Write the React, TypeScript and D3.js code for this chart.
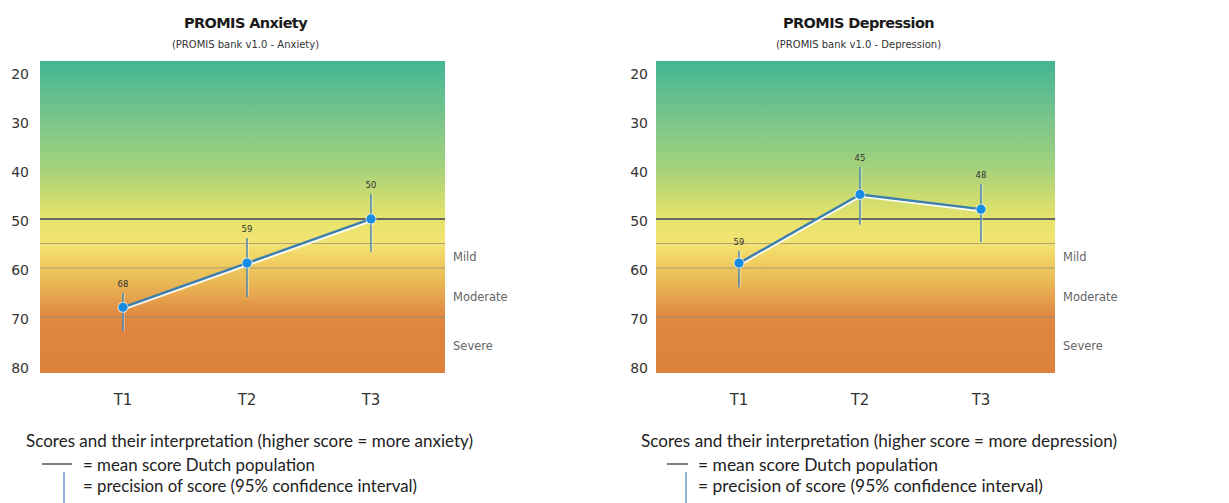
import React from "react";
import * as d3 from "d3";

const timepoints = ["T1", "T2", "T3"];
const yTicks = [20, 30, 40, 50, 60, 70, 80];
const anxietyMeans = [68, 59, 50];
const anxietyLower = [65.1, 53.9, 44.9];
const anxietyUpper = [72.9, 65.9, 56.7];
const depressionMeans = [59, 45, 48];
const depressionLower = [56.5, 39.4, 42.9];
const depressionUpper = [63.9, 51.2, 54.7];
const populationMean = 50;
const thresholds = [55, 60, 70];
const severityLabels = ["Mild", "Moderate", "Severe"];
const severityLabelValues = [57.8, 65.9, 75.8];
const gradientValues = [17.8, 30, 40, 46, 50, 55, 58, 62, 66, 69.5, 72, 81.4];
const gradientColors = ["#42b595", "#7cc68a", "#a6d27b", "#cfdc6e", "#e6e36c", "#f3e473", "#f1d264", "#eabd58", "#e6a34d", "#e08a42", "#df853f", "#dd823d"];

const Y_TOP = 61;
const Y_BOTTOM = 373;
const y = d3.scaleLinear().domain([17.8, 81.4]).range([Y_TOP, Y_BOTTOM]);

type PanelProps = {
  id: string;
  title: string;
  subtitle: string;
  means: number[];
  lower: number[];
  upper: number[];
  x0: number;
  x1: number;
  tickRight: number;
  legendX: number;
  legendText: string;
  legendWidth: number;
  lineX0: number;
  lineX1: number;
  textX: number;
  meanTextWidth: number;
  ciTextWidth: number;
  barX: number;
};

function Panel(p: PanelProps) {
  const x = d3.scalePoint<string>().domain(timepoints).range([p.x0 + 83, p.x1 - 74]);
  const pts = timepoints.map((t, i) => [x(t)!, y(p.means[i])] as [number, number]);
  const line = d3.line<[number, number]>()(pts) || "";
  const shadow = d3.line<[number, number]>()(pts.map(([a, b]) => [a + 0.5, b + 2] as [number, number])) || "";
  const cx = (p.x0 + p.x1) / 2;
  const stops = gradientValues.map((v, i) => ({
    off: (y(v) - Y_TOP) / (Y_BOTTOM - Y_TOP),
    col: gradientColors[i],
  }));
  return (
    <g>
      <defs>
        <linearGradient id={`grad-${p.id}`} x1="0" y1="0" x2="0" y2="1">
          {stops.map((s, i) => (
            <stop key={i} offset={s.off} stopColor={s.col} />
          ))}
        </linearGradient>
      </defs>
      <text x={cx + 3} y={28} textAnchor="middle" fontFamily="DejaVu Sans" fontWeight="bold" fontSize={14.5} fill="#1a1a1a" letterSpacing={-0.6}>
        {p.title}
      </text>
      <text x={cx + 3} y={48} textAnchor="middle" fontFamily="DejaVu Sans" fontSize={10} fill="#333">
        {p.subtitle}
      </text>
      <rect x={p.x0} y={Y_TOP} width={p.x1 - p.x0} height={Y_BOTTOM - Y_TOP} fill={`url(#grad-${p.id})`} />
      {thresholds.map((t) => (
        <line key={t} x1={p.x0} x2={p.x1} y1={y(t)} y2={y(t)} stroke="#8c8a78" strokeOpacity={0.7} strokeWidth={1.2} />
      ))}
      <line x1={p.x0} x2={p.x1} y1={y(populationMean)} y2={y(populationMean)} stroke="#666" strokeWidth={2} />
      {yTicks.map((t) => (
        <text key={t} x={p.tickRight} y={y(t) + 2} dy="0.35em" textAnchor="end" fontFamily="DejaVu Sans" fontSize={14} fill="#333">
          {t}
        </text>
      ))}
      {severityLabels.map((s, i) => (
        <text key={s} x={p.x1 + 8} y={y(severityLabelValues[i])} dy="0.35em" fontFamily="DejaVu Sans" fontSize={11.5} fill="#666">
          {s}
        </text>
      ))}
      {timepoints.map((t, i) => (
        <g key={t}>
          <line x1={x(t)! + 1} x2={x(t)! + 1} y1={y(p.lower[i])} y2={y(p.upper[i])} stroke="#ffffff" strokeOpacity={0.6} strokeWidth={1.2} />
          <line x1={x(t)} x2={x(t)} y1={y(p.lower[i])} y2={y(p.upper[i])} stroke="#4d87b3" strokeWidth={1.5} />
        </g>
      ))}
      <path d={shadow} fill="none" stroke="#ffffff" strokeWidth={2.2} strokeOpacity={0.9} />
      <path d={line} fill="none" stroke="#3a7fb0" strokeWidth={2.4} />
      {timepoints.map((t, i) => (
        <g key={t}>
          <circle cx={x(t)} cy={y(p.means[i])} r={5.5} fill="#ffffff" fillOpacity={0.7} />
          <circle cx={x(t)} cy={y(p.means[i])} r={4.6} fill="#168de2" />
          <text x={x(t)} y={y(p.lower[i]) - 6} textAnchor="middle" fontFamily="DejaVu Sans" fontSize={8.5} fill="#333">
            {p.means[i]}
          </text>
        </g>
      ))}
      <text x={x("T1")} y={400} dy="0.35em" textAnchor="middle" fontFamily="DejaVu Sans" fontSize={15} fill="#333">T1</text>
      <text x={x("T2")} y={400} dy="0.35em" textAnchor="middle" fontFamily="DejaVu Sans" fontSize={15} fill="#333">T2</text>
      <text x={x("T3")} y={400} dy="0.35em" textAnchor="middle" fontFamily="DejaVu Sans" fontSize={15} fill="#333">T3</text>
      <text x={p.legendX} y={441} dy="0.35em" fontFamily="Lato" fontSize={16.5} fill="#222" textLength={p.legendWidth} lengthAdjust="spacingAndGlyphs">
        {p.legendText}
      </text>
      <line x1={p.lineX0} x2={p.lineX1} y1={464} y2={464} stroke="#7a7f86" strokeWidth={2} />
      <text x={p.textX} y={465} dy="0.35em" fontFamily="Lato" fontSize={16.5} fill="#222" textLength={p.meanTextWidth} lengthAdjust="spacingAndGlyphs">
        = mean score Dutch population
      </text>
      <line x1={p.barX} x2={p.barX} y1={472} y2={503} stroke="#8db6da" strokeWidth={2} />
      <text x={p.textX} y={486} dy="0.35em" fontFamily="Lato" fontSize={16.5} fill="#222" textLength={p.ciTextWidth} lengthAdjust="spacingAndGlyphs">
        = precision of score (95% confidence interval)
      </text>
    </g>
  );
}

export default function App() {
  return (
    <svg width={1229} height={503} style={{ position: "absolute", left: 0, top: 0, background: "#fff" }}>
      <rect x={0} y={0} width={1229} height={503} fill="#fff" />
      <Panel
        id="anx"
        title="PROMIS Anxiety"
        subtitle="(PROMIS bank v1.0 - Anxiety)"
        means={anxietyMeans}
        lower={anxietyLower}
        upper={anxietyUpper}
        x0={40}
        x1={445}
        tickRight={29}
        legendX={26}
        legendText="Scores and their interpretation (higher score = more anxiety)"
        legendWidth={447}
        lineX0={42}
        lineX1={72}
        textX={83}
        meanTextWidth={232}
        ciTextWidth={334}
        barX={64}
      />
      <Panel
        id="dep"
        title="PROMIS Depression"
        subtitle="(PROMIS bank v1.0 - Depression)"
        means={depressionMeans}
        lower={depressionLower}
        upper={depressionUpper}
        x0={656}
        x1={1055}
        tickRight={648}
        legendX={641}
        legendText="Scores and their interpretation (higher score = more depression)"
        legendWidth={476}
        lineX0={667}
        lineX1={688}
        textX={698}
        meanTextWidth={240}
        ciTextWidth={345}
        barX={686}
      />
    </svg>
  );
}
